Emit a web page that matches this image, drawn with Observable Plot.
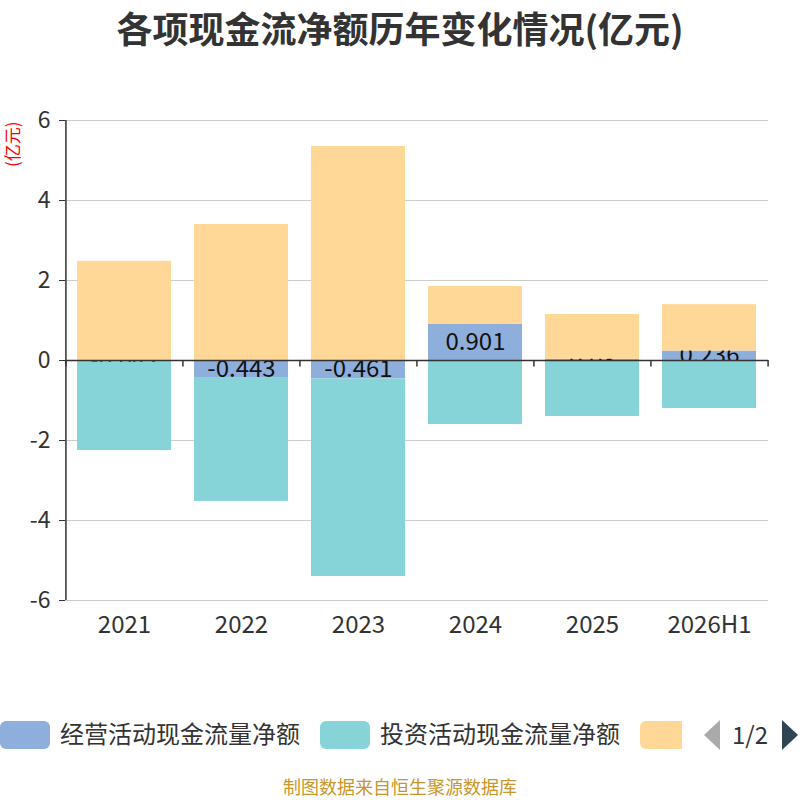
<!DOCTYPE html>
<html><head><meta charset="utf-8">
<script src="https://cdn.jsdelivr.net/npm/d3@7"></script>
<script src="https://cdn.jsdelivr.net/npm/@observablehq/plot@0.6"></script>
<style>
body{margin:0;background:#fff;font-family:"Noto Sans CJK SC","Noto Sans",sans-serif;}
#wrap{position:relative;width:800px;height:800px;overflow:hidden;}
#title{position:absolute;top:2px;left:0;width:800px;text-align:center;font-size:36px;line-height:50px;font-weight:bold;color:#333;}
#ylab{position:absolute;left:3px;top:167px;transform-origin:0 0;transform:rotate(-90deg);color:red;font-size:17px;line-height:18px;white-space:nowrap;}
#chart{position:absolute;top:0;left:0;}
.leg{position:absolute;top:721px;height:28px;border-radius:6px;}
.legt{position:absolute;top:716px;font-size:24px;line-height:34px;color:#333;white-space:nowrap;}
#foot{position:absolute;top:774px;left:0;width:800px;text-align:center;font-size:18px;line-height:24px;color:#c8962a;}
</style></head>
<body><div id="wrap">
<div id="title">各项现金流净额历年变化情况(亿元)</div>
<div id="ylab">(亿元)</div>
<div id="chart"></div>
<div class="leg" style="left:0;width:50px;background:#8eaedc"></div>
<div class="legt" style="left:60px">经营活动现金流量净额</div>
<div class="leg" style="left:320px;width:50px;background:#87d4d8"></div>
<div class="legt" style="left:380px">投资活动现金流量净额</div>
<div class="leg" style="left:640px;width:42px;background:#ffd898;border-radius:6px 0 0 6px"></div>
<svg style="position:absolute;left:700px;top:715px;overflow:visible" width="100" height="42">
<polygon points="4,20 20,5 20,35" fill="#aaa"/>
<text x="32" y="29" font-size="24" fill="#333" font-family="Noto Sans CJK SC">1/2</text>
<polygon points="82,5 98,20 82,35" fill="#2f4554"/>
</svg>
<div id="foot">制图数据来自恒生聚源数据库</div>
</div>
<script>
const years = ["2021","2022","2023","2024","2025","2026H1"];
const seriesNames = ["经营活动现金流量净额","投资活动现金流量净额","筹资活动现金流量净额"];
const operating = [-0.042, -0.443, -0.461, 0.901, 0.03, 0.236];
const investing = [-2.21, -3.08, -4.94, -1.6, -1.4, -1.2];
const financing = [2.48, 3.40, 5.35, 0.95, 1.12, 1.16];
const colors = ["#8eaedc","#87d4d8","#ffd898"];
const yTicks = [-6,-4,-2,0,2,4,6];

const seriesVals = [operating, investing, financing];
const rows = [];
years.forEach((yr, i) => {
  let pos = 0, neg = 0;
  seriesVals.forEach((vals, s) => {
    const v = vals[i];
    let y1, y2;
    if (v >= 0) { y1 = pos; y2 = pos + v; pos = y2; } else { y1 = neg; y2 = neg + v; neg = y2; }
    rows.push({year: yr, series: seriesNames[s], value: v, y1, y2, mid: (y1 + y2) / 2});
  });
});
const opRows = rows.filter(d => d.series === seriesNames[0]);
const otherRows = rows.filter(d => d.series !== seriesNames[0]);

const W = 800, mL = 65, mR = 32;
const step = (W - mL - mR) / years.length;
const font = "Noto Sans CJK SC";

const chart = Plot.plot({
  width: W, height: 660,
  marginTop: 120, marginBottom: 60, marginLeft: mL, marginRight: mR,
  style: {fontFamily: font, background: "transparent"},
  x: {domain: years, paddingInner: 0.2, paddingOuter: 0.1, label: null},
  y: {domain: [-6, 6], label: null},
  color: {domain: seriesNames, range: colors},
  marks: [
    Plot.ruleY(yTicks, {stroke: "#ccc", strokeWidth: 1}),
    Plot.axisY({ticks: yTicks, tickFormat: d => String(d), tickSize: 6, tickPadding: 9, fontSize: 23, color: "#333", stroke: "#333", label: null}),
    Plot.axisX({tickSize: 0, tickPadding: 15, fontSize: 24, color: "#333", label: null}),
    Plot.ruleX([years[0]], {x: d => d, dx: -step / 2, y1: -6, y2: 6, stroke: "#333", strokeWidth: 1.5}),
    Plot.barY(opRows, {x: "year", y1: "y1", y2: "y2", fill: "series"}),
    Plot.text(opRows, {x: "year", y: "mid", text: d => String(d.value), fontSize: 24, fill: "#111"}),
    Plot.barY(otherRows, {x: "year", y1: "y1", y2: "y2", fill: "series"}),
    Plot.ruleY([0], {stroke: "#333", strokeWidth: 1.5}),
    Plot.ruleX(years, {x: d => d, dx: -step / 2, y1: 0, y2: -0.16, stroke: "#333", strokeWidth: 1.5}),
    Plot.ruleX([years[years.length - 1]], {x: d => d, dx: step / 2, y1: 0, y2: -0.16, stroke: "#333", strokeWidth: 1.5})
  ]
});
document.getElementById("chart").appendChild(chart);
</script>
</body></html>
